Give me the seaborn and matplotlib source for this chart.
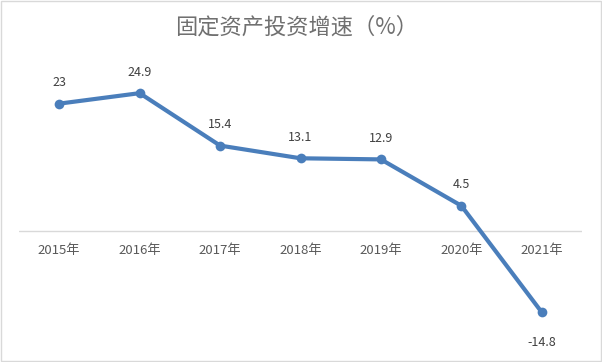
import pandas as pd
import matplotlib.pyplot as plt
import seaborn as sns

# 数据
years = ["2015年", "2016年", "2017年", "2018年", "2019年", "2020年", "2021年"]
growth = [23, 24.9, 15.4, 13.1, 12.9, 4.5, -14.8]

df = pd.DataFrame({"year": years, "growth": growth})
df["pos"] = range(len(df))

sns.set_style("white")
plt.rcParams['font.family'] = ['Noto Sans CJK SC', 'DejaVu Sans']

fig = plt.figure(figsize=(6.02, 3.62), dpi=100)
ax = fig.add_axes([19 / 602, 1 - 341 / 362, 563 / 602, 276 / 362])

line_color = "#4A7EBB"
sns.lineplot(data=df, x="pos", y="growth", ax=ax, color=line_color,
             linewidth=3, marker="o", markersize=7, markeredgewidth=0)

ax.set_xlim(-0.5, 6.5)
ax.set_ylim(-20, 30)
ax.axhline(0, color="#D9D9D9", linewidth=1, zorder=0)

for s in ax.spines.values():
    s.set_visible(False)
ax.set_xticks([])
ax.set_yticks([])
ax.set_xlabel("")
ax.set_ylabel("")

# 年份标签放在零线下方
for i, y in enumerate(years):
    ax.annotate(y, (i, 0), xytext=(0, -14), textcoords="offset points",
                ha="center", va="center", fontsize=9.5, color="#595959")

# 数据标签
for i, v in enumerate(growth):
    off = -22 if v < 0 else 15
    ax.annotate(f"{v:g}", (i, v), xytext=(0, off), textcoords="offset points",
                ha="center", va="center", fontsize=9, color="#404040")

fig.text(297 / 602, 1 - 27 / 362, "固定资产投资增速（%）", ha="center", va="center",
         fontsize=16, color="#707070", fontweight="light")

# 外框
fig.patches.append(plt.Rectangle((0.001, 0.002), 0.997, 0.995, transform=fig.transFigure,
                                 fill=False, edgecolor="#D9D9D9", linewidth=1))

plt.savefig("out.png", dpi=100)
